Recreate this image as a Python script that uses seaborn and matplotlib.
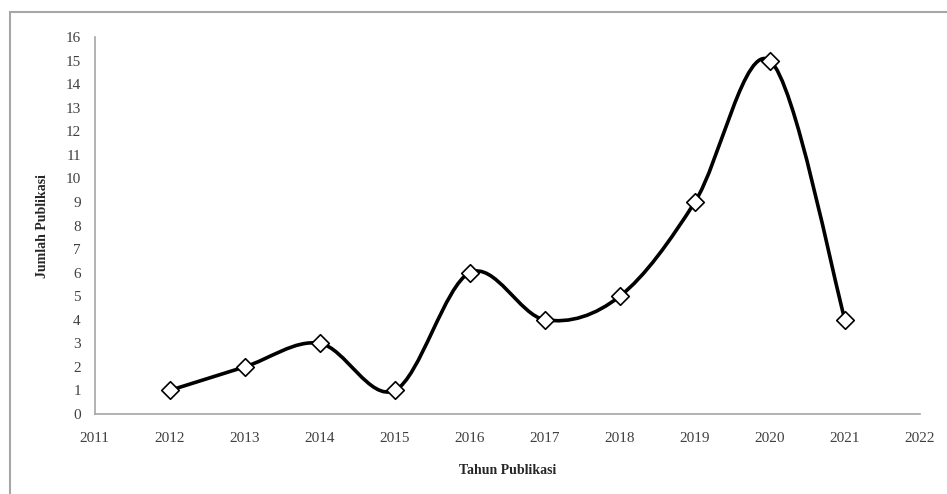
import numpy as np
import matplotlib
matplotlib.use("Agg")
import matplotlib.pyplot as plt
import seaborn as sns
from matplotlib.path import Path
from matplotlib.patches import PathPatch, Rectangle

sns.set_style("white")
plt.rcParams['font.family'] = ['Liberation Serif', 'DejaVu Serif']

# data
years = [2012, 2013, 2014, 2015, 2016, 2017, 2018, 2019, 2020, 2021]
counts = [1, 2, 3, 1, 6, 4, 5, 9, 15, 4]
x_ticks = list(range(2011, 2023))
y_ticks = list(range(0, 17))

fig = plt.figure(figsize=(9.47, 4.94), dpi=100)
ax = fig.add_axes([0.100, 0.162, 0.8715, 0.763])

# outer frame of the chart area
fig.patches.append(Rectangle((10 / 947, -0.05), 1.0, 1 - 12 / 494 + 0.05,
                             transform=fig.transFigure, fill=False,
                             edgecolor='#a6a6a6', linewidth=1.5))

# smooth line (Excel style, Catmull-Rom -> cubic Bezier)
pts = np.column_stack([years, counts]).astype(float)
ext = np.vstack([pts[0], pts, pts[-1]])
verts = [tuple(pts[0])]
codes = [Path.MOVETO]
for i in range(len(pts) - 1):
    p0, p1, p2, p3 = ext[i], ext[i + 1], ext[i + 2], ext[i + 3]
    c1 = p1 + (p2 - p0) / 6.0
    c2 = p2 - (p3 - p1) / 6.0
    verts += [tuple(c1), tuple(c2), tuple(p2)]
    codes += [Path.CURVE4] * 3
ax.add_patch(PathPatch(Path(verts, codes), fill=False, edgecolor='black',
                       linewidth=2.6, zorder=2, capstyle='round'))

sns.scatterplot(x=years, y=counts, ax=ax, marker='D', s=80, color='white',
                edgecolor='black', linewidth=1.2, zorder=3)

ax.set_xlim(2011, 2022)
ax.set_ylim(0, 16)
ax.set_xticks(x_ticks)
ax.set_yticks(y_ticks)
ax.tick_params(axis='both', colors='#a6a6a6', labelcolor='#404040',
               labelsize=11, length=4, width=1, direction='out')
ax.tick_params(axis='x', pad=9)
ax.tick_params(axis='y', pad=6)
for side in ['top', 'right']:
    ax.spines[side].set_visible(False)
for side in ['left', 'bottom']:
    ax.spines[side].set_color('#a6a6a6')
    ax.spines[side].set_linewidth(1.2)

ax.set_xlabel('Tahun Publikasi', fontsize=10, fontweight='bold', labelpad=14)
ax.set_ylabel('Jumlah Publikasi', fontsize=10, fontweight='bold', labelpad=12)

fig.savefig('out.png', dpi=100)
